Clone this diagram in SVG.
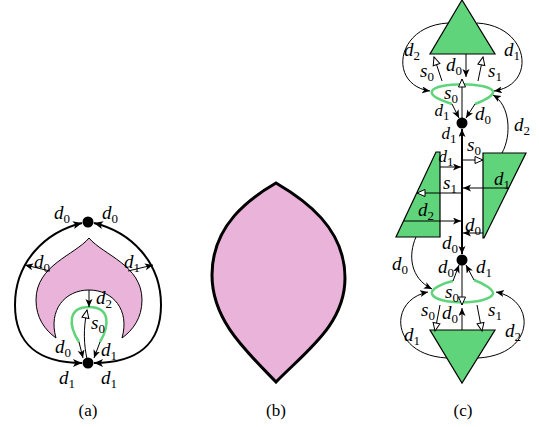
<svg xmlns="http://www.w3.org/2000/svg" width="539" height="427" viewBox="0 0 539 427">
<style>
.lb{font-family:"Liberation Serif","DejaVu Serif",serif;font-style:italic;font-size:19px;text-anchor:middle;fill:#000}
.lbs{font-size:17px}
.sb{font-style:normal;font-size:13px}
.cap{font-family:"Liberation Serif","DejaVu Serif",serif;font-size:17px;text-anchor:middle;fill:#000}
.thin{fill:none;stroke:#000;stroke-width:1}
.thick{fill:none;stroke:#000;stroke-width:2}
.fa{marker-end:url(#ah)}
.ho{marker-end:url(#hol)}
.loop{fill:none;stroke:#5fd47b;stroke-width:2.5}
.gr{fill:#5fd47b;stroke:#000;stroke-width:1.2}
.pk{fill:#eab3da;stroke:#000;stroke-width:1}
</style>
<defs>
<marker id="ah" markerUnits="userSpaceOnUse" markerWidth="10" markerHeight="8" refX="8" refY="3.5" orient="auto-start-reverse"><path d="M0,0 L8,3.5 L0,7 L2,3.5 z" fill="#000"/></marker>
<marker id="ahT" markerUnits="userSpaceOnUse" markerWidth="11" markerHeight="9" refX="9" refY="4" orient="auto-start-reverse"><path d="M0,0 L9,4 L0,8 L2.2,4 z" fill="#000"/></marker>
<marker id="hol" markerUnits="userSpaceOnUse" markerWidth="11" markerHeight="10" refX="9" refY="4.5" orient="auto"><path d="M1,1 L9,4.5 L1,8 z" fill="#fff" stroke="#000" stroke-width="1"/></marker>
</defs>

<!-- Panel (a) -->
<g id="a-shape"><path class="pk" d="M89 238 C103 255,142 265,142 300 C142 318,133 330,122 338 C130 310,113 290,89 290 C65 290,48 310,56 338 C45 330,36 318,36 300 C36 265,75 255,89 238 Z"/></g>
<g id="a-loop"><path class="loop" d="M79 342 C68 325,68 307,89 307 C110 307,110 325,100 342"/></g>
<g id="a-top"><circle cx="88" cy="222" r="5.5" fill="#000"/></g>
<g id="a-bottom"><circle cx="88" cy="363" r="5.5" fill="#000"/></g>
<g id="a-connectors">
<path class="thick" d="M82 223 C45 232,15 262,15 305 C15 345,40 363,82 363" marker-start="url(#ahT)" marker-end="url(#ahT)"/>
<path class="thick" d="M94 223 C131 232,161 262,161 305 C161 345,136 363,94 363" marker-start="url(#ahT)" marker-end="url(#ahT)"/>
<path class="thin fa" d="M50 271 L25 265"/>
<path class="thin fa" d="M128 271 L153 265"/>
<path class="thin fa" d="M89 290 L89 307"/>
<path class="thin ho" d="M87 359 C84 345,83 330,87 310"/>
<path class="thin fa" d="M79 342 L83 358"/>
<path class="thin fa" d="M100 342 L94 358"/>
</g>
<g id="a-labels">
<text class="lb" x="62" y="219">d<tspan class="sb" dy="4">0</tspan></text>
<text class="lb" x="110" y="219">d<tspan class="sb" dy="4">0</tspan></text>
<text class="lb" x="42" y="268">d<tspan class="sb" dy="4">0</tspan></text>
<text class="lb" x="132" y="268">d<tspan class="sb" dy="4">1</tspan></text>
<text class="lb" x="104" y="304">d<tspan class="sb" dy="4">2</tspan></text>
<text class="lb" x="98" y="329">s<tspan class="sb" dy="4">0</tspan></text>
<text class="lb" x="63" y="353">d<tspan class="sb" dy="4">0</tspan></text>
<text class="lb" x="109" y="356">d<tspan class="sb" dy="4">1</tspan></text>
<text class="lb" x="67" y="384">d<tspan class="sb" dy="4">1</tspan></text>
<text class="lb" x="109" y="384">d<tspan class="sb" dy="4">1</tspan></text>
</g>
<text class="cap" x="88" y="416">(a)</text>

<!-- Panel (b) -->
<g id="b-shape"><path d="M276 183 C250 198,212 225,212 275 C212 320,245 350,276 382 C305 352,345 325,345 278 C345 228,305 200,276 183 Z" fill="#eab3da" stroke="#000" stroke-width="3" stroke-linejoin="miter"/></g>
<text class="cap" x="276" y="416">(b)</text>

<!-- Panel (c) -->
<g id="c-tri-top"><polygon class="gr" points="462,0 430,54 495,54"/></g>
<g id="c-tri-bottom"><polygon class="gr" points="430,330 495,330 462,383"/></g>
<g id="c-par-left"><polygon class="gr" points="436,152 440,152 440,237 396,237"/></g>
<g id="c-par-right"><polygon class="gr" points="483,153 526,153 484,238 483,238"/></g>
<g id="c-loop-top"><path class="loop" d="M452 104 C440 100,430 96,432 91 C436 82,488 82,493 91 C494 96,485 100,475 104"/></g>
<g id="c-loop-bottom"><path class="loop" d="M453 281 C440 284,430 290,432 294 C436 305,488 305,493 294 C494 290,485 284,474 280"/></g>
<g id="c-dot-top"><circle cx="462" cy="123" r="5.5" fill="#000"/></g>
<g id="c-dot-bottom"><circle cx="462" cy="260" r="5.5" fill="#000"/></g>
<g id="c-connectors">
<path class="thin fa" d="M448 23 C395 26,388 85,430 91"/>
<path class="thin fa" d="M477 23 C530 26,537 85,494 91"/>
<path class="thin ho" d="M442 81 L434 57"/>
<path class="thin ho" d="M478 81 L483 57"/>
<path class="thin fa" d="M466 54 L466 77"/>
<path class="thin ho" d="M462 118 L462 79"/>
<path class="thin fa" d="M452 104 L459 118"/>
<path class="thin fa" d="M475 104 L466 118"/>
<path class="thin fa" d="M502 153 C512 135,510 105,493 95"/>
<path class="thick" d="M462 129 L462 254" marker-start="url(#ah)" marker-end="url(#ah)"/>
<path class="thin fa" d="M440 167 L461 167"/>
<path class="thin ho" d="M463 160 L483 160"/>
<path class="thin fa" d="M509 188 L463 188"/>
<path class="thin ho" d="M461 193 L417 193"/>
<path class="thin fa" d="M404 221 L461 221"/>
<path class="thin fa" d="M483 233 L463 233"/>
<path class="thin fa" d="M416 237 C408 255,410 278,432 289"/>
<path class="thin fa" d="M453 281 L459 265"/>
<path class="thin fa" d="M474 280 L466 265"/>
<path class="thin ho" d="M462 265 L462 305"/>
<path class="thin fa" d="M462 330 L462 308"/>
<path class="thin ho" d="M440 305 L435 331"/>
<path class="thin ho" d="M477 305 L482 331"/>
<path class="thin fa" d="M447 358 C390 355,388 300,428 292"/>
<path class="thin fa" d="M478 358 C535 355,537 300,496 292"/>
</g>
<g id="c-labels">
<text class="lb" x="412" y="56">d<tspan class="sb" dy="4">2</tspan></text>
<text class="lb" x="512" y="56">d<tspan class="sb" dy="4">1</tspan></text>
<text class="lb" x="427" y="77">s<tspan class="sb" dy="4">0</tspan></text>
<text class="lb" x="454" y="71">d<tspan class="sb" dy="4">0</tspan></text>
<text class="lb" x="495" y="77">s<tspan class="sb" dy="4">1</tspan></text>
<text class="lb" x="451" y="99">s<tspan class="sb" dy="4">0</tspan></text>
<text class="lb lbs" x="442" y="116">d<tspan class="sb" dy="4">1</tspan></text>
<text class="lb" x="483" y="120">d<tspan class="sb" dy="4">0</tspan></text>
<text class="lb" x="522" y="131">d<tspan class="sb" dy="4">2</tspan></text>
<text class="lb lbs" x="449" y="139">d<tspan class="sb" dy="4">1</tspan></text>
<text class="lb" x="474" y="151">s<tspan class="sb" dy="4">0</tspan></text>
<text class="lb lbs" x="446" y="162">d<tspan class="sb" dy="4">1</tspan></text>
<text class="lb" x="450" y="189">s<tspan class="sb" dy="4">1</tspan></text>
<text class="lb" x="502" y="185">d<tspan class="sb" dy="4">1</tspan></text>
<text class="lb" x="426" y="216">d<tspan class="sb" dy="4">2</tspan></text>
<text class="lb" x="473" y="231">d<tspan class="sb" dy="4">0</tspan></text>
<text class="lb" x="450" y="249">d<tspan class="sb" dy="4">0</tspan></text>
<text class="lb" x="400" y="270">d<tspan class="sb" dy="4">0</tspan></text>
<text class="lb" x="446" y="273">d<tspan class="sb" dy="4">0</tspan></text>
<text class="lb" x="484" y="273">d<tspan class="sb" dy="4">1</tspan></text>
<text class="lb" x="452" y="298">s<tspan class="sb" dy="4">0</tspan></text>
<text class="lb" x="428" y="316">s<tspan class="sb" dy="4">0</tspan></text>
<text class="lb" x="450" y="319">d<tspan class="sb" dy="4">0</tspan></text>
<text class="lb" x="495" y="316">s<tspan class="sb" dy="4">1</tspan></text>
<text class="lb" x="412" y="341">d<tspan class="sb" dy="4">1</tspan></text>
<text class="lb" x="513" y="337">d<tspan class="sb" dy="4">2</tspan></text>
</g>
<text class="cap" x="463" y="416">(c)</text>
</svg>
